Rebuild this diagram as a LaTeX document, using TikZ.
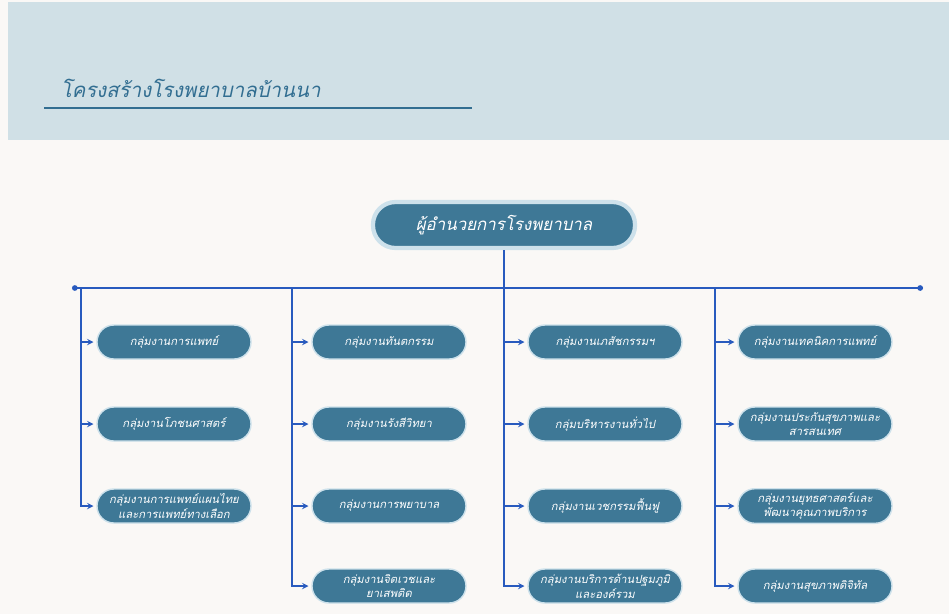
\documentclass[tikz,border=0pt]{standalone}
\usepackage{fontspec}
\newfontfamily\thaifont[Script=Thai]{Loma}
\usetikzlibrary{arrows,arrows.meta,shapes}

\begin{document}
\begin{tikzpicture}[node distance = 2cm, >=stealth]
    \definecolor{paper}{RGB}{250,248,246}
    \definecolor{bandblue}{RGB}{208,224,230}
    \definecolor{titleblue}{RGB}{50,110,145}
    \definecolor{boxblue}{RGB}{62,120,150}
    \definecolor{glow}{RGB}{205,225,235}
    \definecolor{linkblue}{RGB}{40,90,190}

    \tikzstyle{head}=[rectangle,rounded corners=16pt,draw=glow,line width=3pt,fill=boxblue,text=white,minimum width=6.55cm,minimum height=1.15cm,font=\thaifont\itshape\fontsize{12pt}{14pt}\selectfont]  % top box
    \tikzstyle{unit}=[rectangle,rounded corners=12pt,draw=glow,line width=1pt,fill=boxblue,text=white,minimum width=3.85cm,minimum height=0.85cm,inner sep=2.5pt,align=center,font=\thaifont\itshape\fontsize{8pt}{10.5pt}\selectfont]  % group boxes
    \tikzstyle{link}=[linkblue,line width=1pt]  % connectors

    \useasboundingbox (0,0) rectangle (23.725,-15.35);
    \fill[paper] (0,0) rectangle (23.725,-15.35);
    \fill[bandblue] (0.2,-0.05) rectangle (23.725,-3.5);

    % title
    \node[anchor=west,text=titleblue,font=\thaifont\itshape\fontsize{14.5pt}{18pt}\selectfont](title) at (1.4,-2.2){โครงสร้างโรงพยาบาลบ้านนา};
    \draw[titleblue,line width=1.3pt](1.1,-2.7)--(11.8,-2.7);

    % nodes
    \node[head](dir) at (12.6,-5.625){ผู้อำนวยการโรงพยาบาล};
    \coordinate (bus) at (12.6,-7.2);
    \coordinate (busl) at (1.8,-7.2);
    \coordinate (busr) at (23.075,-7.2);
    \coordinate (c1) at (2.025,-7.2);
    \coordinate (c2) at (7.3,-7.2);
    \coordinate (c3) at (12.6,-7.2);
    \coordinate (c4) at (17.875,-7.2);

    \node[unit](med) at (4.35,-8.55){กลุ่มงานการแพทย์};
    \node[unit,below of=med,node distance=20.5mm](nutr){กลุ่มงานโภชนศาสตร์};
    \node[unit,below of=nutr,node distance=20.5mm](thai){กลุ่มงานการแพทย์แผนไทย\\และการแพทย์ทางเลือก};

    \node[unit](dent) at (9.725,-8.55){กลุ่มงานทันตกรรม};
    \node[unit,below of=dent,node distance=20.5mm](xray){กลุ่มงานรังสีวิทยา};
    \node[unit,below of=xray,node distance=20.5mm](nurse){กลุ่มงานการพยาบาล};
    \node[unit,below of=nurse,node distance=20mm](psy){กลุ่มงานจิตเวชและ\\ยาเสพติด};

    \node[unit](pharm) at (15.125,-8.55){กลุ่มงานเภสัชกรรมฯ};
    \node[unit,below of=pharm,node distance=20.5mm](admin){กลุ่มบริหารงานทั่วไป};
    \node[unit,below of=admin,node distance=20.5mm](rehab){กลุ่มงานเวชกรรมฟื้นฟู};
    \node[unit,below of=rehab,node distance=20mm](prim){กลุ่มงานบริการด้านปฐมภูมิ\\และองค์รวม};

    \node[unit](lab) at (20.375,-8.55){กลุ่มงานเทคนิคการแพทย์};
    \node[unit,below of=lab,node distance=20.5mm](insur){กลุ่มงานประกันสุขภาพและ\\สารสนเทศ};
    \node[unit,below of=insur,node distance=20.5mm](strat){กลุ่มงานยุทธศาสตร์และ\\พัฒนาคุณภาพบริการ};
    \node[unit,below of=strat,node distance=20mm](digi){กลุ่มงานสุขภาพดิจิทัล};

    % lines
    \draw[link](dir)--(bus);
    \draw[link,{Circle[length=4pt]}-{Circle[length=4pt]}](busl)--(busr);
    \draw[link,->,shorten >=2pt](c1)|-(thai.west);
    \draw[link,->,shorten >=2pt](c1|-med)--(med.west);
    \draw[link,->,shorten >=2pt](c1|-nutr)--(nutr.west);
    \draw[link,->,shorten >=2pt](c2)|-(psy.west);
    \foreach \n in {dent,xray,nurse}
        \draw[link,->,shorten >=2pt](c2|-\n)--(\n.west);
    \draw[link,->,shorten >=2pt](c3)|-(prim.west);
    \foreach \n in {pharm,admin,rehab}
        \draw[link,->,shorten >=2pt](c3|-\n)--(\n.west);
    \draw[link,->,shorten >=2pt](c4)|-(digi.west);
    \foreach \n in {lab,insur,strat}
        \draw[link,->,shorten >=2pt](c4|-\n)--(\n.west);
\end{tikzpicture}
\end{document}
